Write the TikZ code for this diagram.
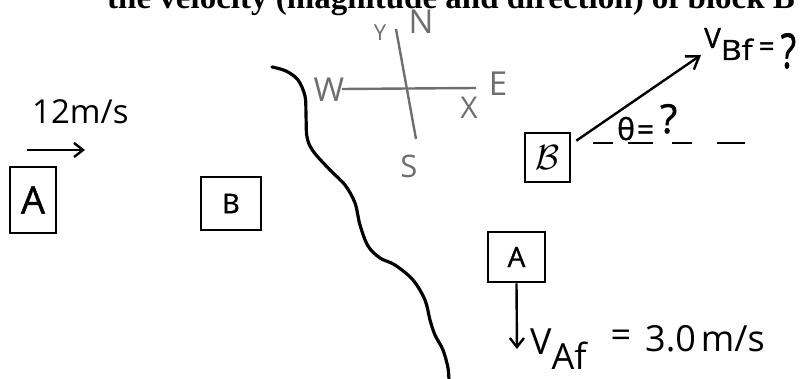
\documentclass[tikz,border=0pt]{standalone}
\usepackage{fontspec}
\setmainfont{Liberation Serif}
\newfontfamily\hand{Open Sans}
\newfontfamily\handb[FakeBold=1.2]{Open Sans}
\usetikzlibrary{arrows.meta,calc}
\definecolor{compassgray}{HTML}{6E6E6E}
\begin{document}
\begin{tikzpicture}[x=1pt,y=-1pt,
  blockbox/.style={draw, line width=2.6pt, inner sep=0pt, font=\handb},
  handtext/.style={font=\hand, inner sep=0pt, text=black},
  handbold/.style={font=\handb, inner sep=0pt, text=black},
  compasstext/.style={font=\hand, inner sep=0pt, text=compassgray},
  compassline/.style={draw=compassgray, line width=2.4pt},
  vecarrow/.style={line width=2.4pt, -{Straight Barb[length=9pt,width=14pt,line width=2.4pt]}},
  river/.style={line width=3.2pt, line cap=round, line join=round},
  dashline/.style={line width=2pt}]
\clip (0,0) rectangle (807,379);
\useasboundingbox (0,0) rectangle (807,379);

% cut-off title line
\node[anchor=base west, inner sep=0pt] (title) at (107,8.5)
  {\fontsize{33}{33}\selectfont\bfseries the velocity (magnitude and direction) of block B};

% left side: initial state
\node[blockbox, minimum width=46pt, minimum height=66pt] (A1) at (33,200) {\fontsize{38}{38}\selectfont A};
\node[blockbox, minimum width=60pt, minimum height=53pt] (B1) at (231,203.5) {\fontsize{27}{27}\selectfont B};
\coordinate (v1s) at (27,150);
\coordinate (v1e) at (85,150);
\draw[vecarrow] (v1s) -- (v1e);
\node[handtext, anchor=base west] (v1lab) at (32,124) {\fontsize{33}{33}\selectfont 12m/s};

% river bank
\draw[river] plot[smooth, tension=0.55] coordinates {
  (272,67) (286,71) (298,80) (305,96) (306,115) (307,137) (313,151) (330,170)
  (345,185) (355,203) (360,225) (368,246) (380,258) (395,265) (413,280)
  (425,300) (430,320) (435,335) (443,350) (448,368) (449,382)};

% compass
\coordinate (cw) at (342,89);
\coordinate (ce) at (476,88);
\coordinate (cn) at (396,29);
\coordinate (cs) at (416,139);
\draw[compassline] (cw) -- (ce);
\draw[compassline] (cn) -- (cs);
\node[compasstext] (lN) at (421,22) {\fontsize{33}{33}\selectfont N};
\node[compasstext] (lE) at (498,84) {\fontsize{33}{33}\selectfont E};
\node[compasstext] (lS) at (409,166) {\fontsize{31}{31}\selectfont S};
\node[compasstext] (lW) at (329,90) {\fontsize{33}{33}\selectfont W};
\node[compasstext] (lX) at (469,108) {\fontsize{30}{30}\selectfont X};
\node[compasstext] (lY) at (380,33) {\fontsize{22}{22}\selectfont Y};

% right side: block B after collision
\node[blockbox, minimum width=45pt, minimum height=49pt] (B2) at (547.5,157.5) {\scalebox{3.5}{$\mathcal{B}$}};
\coordinate (vBe) at (701,55);
\draw[line width=2.4pt, -{Straight Barb[length=12pt,width=16pt,line width=2.4pt]}] ($(B2.north east)+(5,9)$) -- (vBe);
\node[handbold, anchor=base west] (vBlab) at (704,48)
  {\fontsize{28}{28}\selectfont V\raisebox{-12pt}{\scalebox{1.15}[1]{\fontsize{28}{28}\selectfont Bf}}\hspace{6pt}\raisebox{-8pt}{=}\hspace{6pt}\raisebox{-20pt}{\scalebox{0.75}[1]{\fontsize{48}{48}\selectfont ?}}};
\draw[dashline] (593,143) -- (613,143) (628,143) -- (653,143) (672,143) -- (692,143) (717,143) -- (745,143);
\node[handbold, anchor=base west] (thlab) at (617,140)
  {\fontsize{30}{30}\selectfont θ\hspace{2pt}=\hspace{6pt}\raisebox{7pt}{\fontsize{40}{40}\selectfont ?}};

% right side: block A after collision
\node[blockbox, minimum width=57pt, minimum height=50pt] (A2) at (516.5,257) {\fontsize{28}{28}\selectfont A};
\coordinate (vAe) at (517,349);
\draw[vecarrow] (A2.south) -- (vAe);
\node[handtext, anchor=base west] (vAlab) at (530,355)
  {\fontsize{36}{36}\selectfont V\raisebox{-15pt}{Af}\hspace{24pt}\raisebox{7pt}{=}\hspace{14pt}\raisebox{3pt}{3.0\hspace{5pt}m/s}};
\end{tikzpicture}
\end{document}
